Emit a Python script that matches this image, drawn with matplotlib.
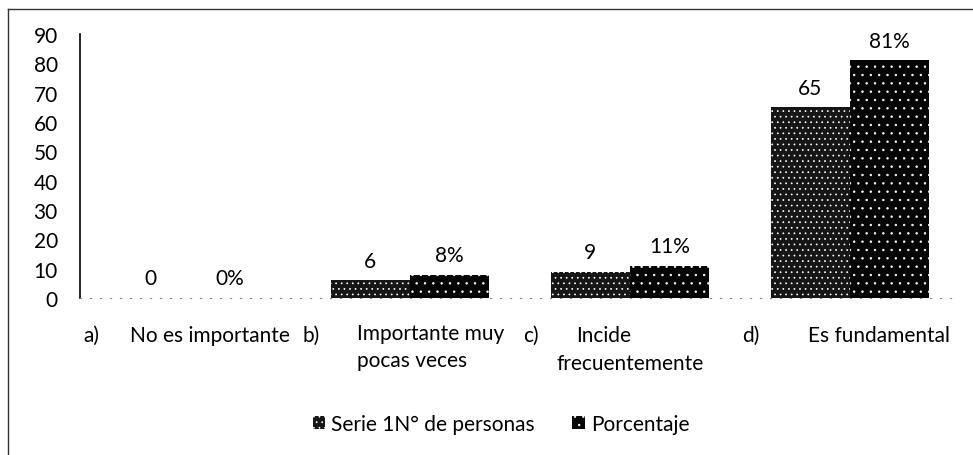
import numpy as np
import matplotlib
matplotlib.use('Agg')
import matplotlib.pyplot as plt
from matplotlib.lines import Line2D

plt.rcParams['font.family'] = ['Lato', 'DejaVu Sans']
plt.rcParams['hatch.color'] = 'white'
plt.rcParams['hatch.linewidth'] = 0.5

# data
prefixes = ['a)', 'b)', 'c)', 'd)']
names = ['No es importante', 'Importante muy\npocas veces', 'Incide', 'Es fundamental']
serie1 = [0, 6, 9, 65]          # N° de personas
porcentaje = [0, 8, 11, 81]     # %
yticks = [0, 10, 20, 30, 40, 50, 60, 70, 80, 90]

fs = 15
fig = plt.figure(figsize=(9.73, 4.56), dpi=100)
ax = fig.add_axes([0.0822, 0.3443, 0.9044, 0.5789])

x = np.arange(len(serie1))
w = 0.36
b1 = ax.bar(x - w / 2, serie1, w, color='#161616', hatch='...', label='Serie 1N° de personas')
b2 = ax.bar(x + w / 2, porcentaje, w, color='#050505', hatch='..', label='Porcentaje')

ax.bar_label(b1, labels=[str(v) for v in serie1], padding=7, fontsize=fs)
ax.bar_label(b2, labels=[str(v) + '%' for v in porcentaje], padding=7, fontsize=fs)

ax.set_xlim(-0.5, len(serie1) - 0.5)
ax.set_ylim(0, 90)
ax.set_yticks(yticks)
ax.tick_params(axis='y', length=0, pad=16, labelsize=fs)
ax.set_xticks([])

for s in ['top', 'right']:
    ax.spines[s].set_visible(False)
ax.spines['left'].set_color('black')
ax.spines['left'].set_linewidth(1.2)
ax.spines['bottom'].set_color('#888888')
ax.spines['bottom'].set_linestyle((0, (1, 8)))

# category labels: letter at the left, text shifted like the original
trans = ax.get_xaxis_transform()
name_off = [0.09, -0.24, -0.12, 0.13]
name_ha = ['center', 'left', 'center', 'center']
for i in range(len(prefixes)):
    ax.text(i - 0.45, -0.14, prefixes[i], transform=trans, ha='center', va='center', fontsize=fs)
    if '\n' in names[i]:
        ax.text(i + name_off[i], -0.095, names[i], transform=trans, ha=name_ha[i], va='top',
                fontsize=fs, linespacing=1.45, multialignment='left')
    else:
        ax.text(i + name_off[i], -0.14, names[i], transform=trans, ha=name_ha[i], va='center',
                fontsize=fs)
# second line of c)
ax.text(2, -0.245, 'frecuentemente', transform=trans, ha='center', va='center', fontsize=fs)

fig.legend(handles=[b1, b2], loc='center', bbox_to_anchor=(0.515, 0.068), ncol=2, frameon=False,
           fontsize=fs, handlelength=0.6, handleheight=0.6, handletextpad=0.3, columnspacing=1.8)

# outer frame (top and left edges visible)
fig.add_artist(Line2D([8 / 973, 1], [1 - 10 / 456, 1 - 10 / 456], color='#333333', lw=1))
fig.add_artist(Line2D([8 / 973, 8 / 973], [0, 1 - 10 / 456], color='#333333', lw=1))

fig.savefig('out.png', dpi=100)
